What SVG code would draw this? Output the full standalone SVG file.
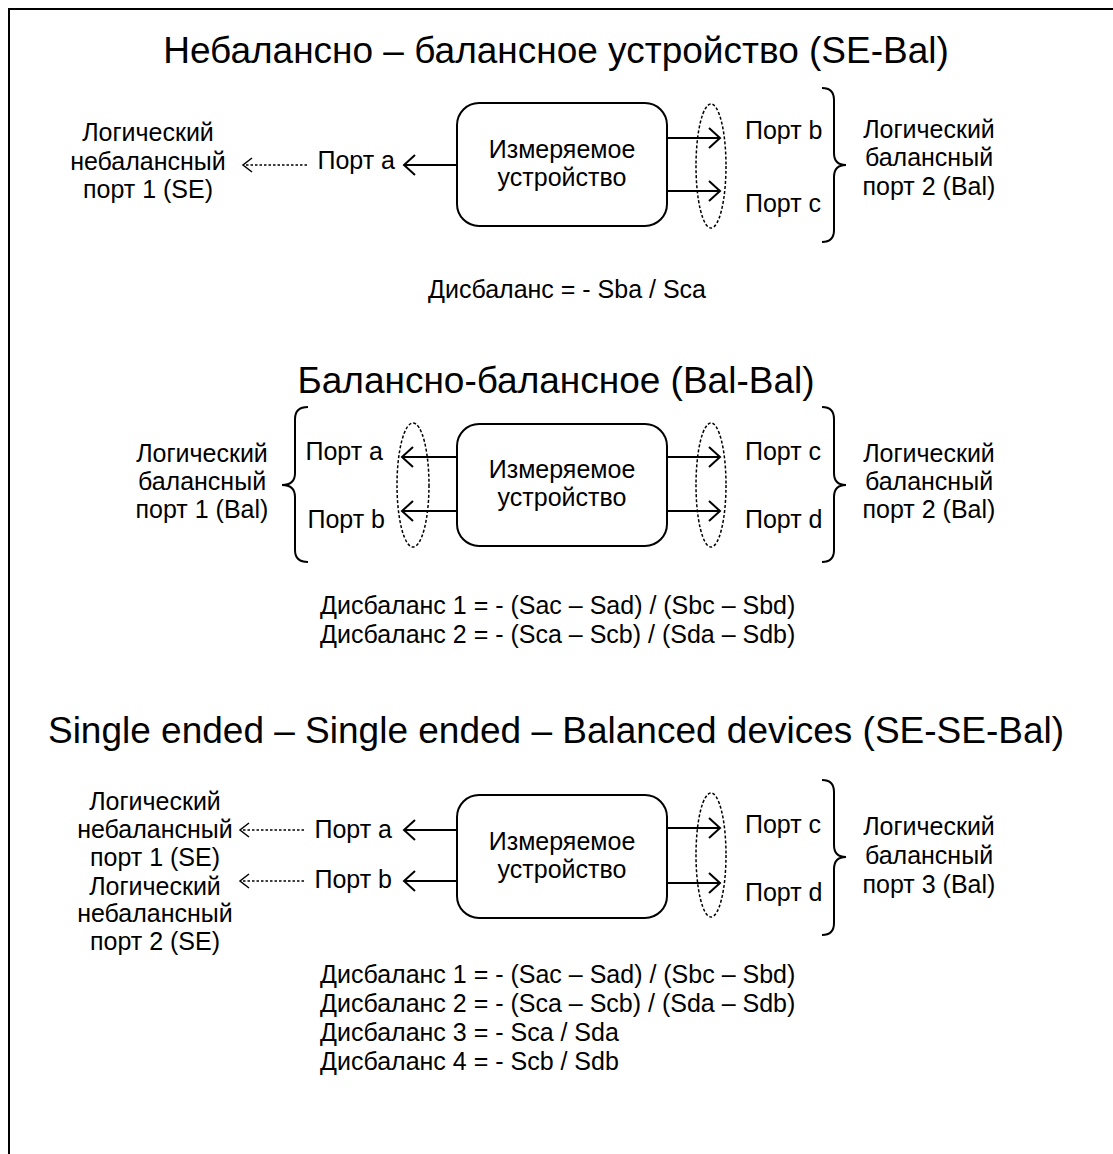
<svg xmlns="http://www.w3.org/2000/svg" width="1113" height="1154" viewBox="0 0 1113 1154">
<style>
text{font-family:"Liberation Sans",Arial,sans-serif;fill:#000}
.t{font-size:37px;text-anchor:middle}
.b{font-size:25px}
.m{text-anchor:middle}
.e{text-anchor:end}
.box{fill:#fff;stroke:#000;stroke-width:2}
.ar{stroke:#000;stroke-width:2;fill:none;marker-end:url(#ah)}
.da{stroke:#000;stroke-width:1.5;fill:none;stroke-dasharray:2.5 2;marker-end:url(#dh)}
.el{fill:none;stroke:#000;stroke-width:1.5;stroke-dasharray:3 2}
.br{fill:none;stroke:#000;stroke-width:2}
</style>
<defs>
<marker id="ah" markerUnits="userSpaceOnUse" markerWidth="14" markerHeight="24" viewBox="0 0 14 24" refX="12" refY="12" orient="auto">
<path d="M1,2 L12,12 L1,22" fill="none" stroke="#000" stroke-width="2"/>
</marker>
<marker id="dh" markerUnits="userSpaceOnUse" markerWidth="12" markerHeight="20" viewBox="0 0 12 20" refX="10" refY="10" orient="auto">
<path d="M1,3 L10,10 L1,17" fill="none" stroke="#000" stroke-width="1.5"/>
</marker>
</defs>
<rect width="1113" height="1154" fill="#fff"/>
<path d="M9,1154 V9 H1113" fill="none" stroke="#000" stroke-width="2"/>

<!-- Section 1 -->
<text class="t" x="556" y="63">Небалансно – балансное устройство (SE-Bal)</text>
<g id="dut1">
<rect class="box" x="457" y="103" width="210" height="123" rx="22"/>
<text class="b m" x="562" y="158">Измеряемое</text>
<text class="b m" x="562" y="186">устройство</text>
</g>
<g id="ports1">
<text class="b e" x="395" y="169">Порт a</text>
<text class="b" x="745" y="139">Порт b</text>
<text class="b" x="745" y="212">Порт c</text>
<ellipse class="el" cx="711" cy="166" rx="15" ry="62"/>
</g>
<g id="logic1">
<text class="b m" x="148" y="141">Логический</text>
<text class="b m" x="148" y="170">небалансный</text>
<text class="b m" x="148" y="198">порт 1 (SE)</text>
<path class="br" d="M822,88 Q834,88 834,100 L834,153 Q834,165 846,165 Q834,165 834,177 L834,230 Q834,242 822,242"/>
<text class="b m" x="929" y="138">Логический</text>
<text class="b m" x="929" y="166">балансный</text>
<text class="b m" x="929" y="195">порт 2 (Bal)</text>
</g>
<text class="b" x="428" y="298">Дисбаланс = - Sba / Sca</text>

<!-- Section 2 -->
<text class="t" x="556" y="393">Балансно-балансное (Bal-Bal)</text>
<g id="dut2">
<rect class="box" x="457" y="424" width="210" height="122" rx="22"/>
<text class="b m" x="562" y="478">Измеряемое</text>
<text class="b m" x="562" y="506">устройство</text>
</g>
<g id="ports2">
<text class="b e" x="383" y="460">Порт a</text>
<text class="b e" x="385" y="528">Порт b</text>
<text class="b" x="745" y="460">Порт c</text>
<text class="b" x="745" y="528">Порт d</text>
<ellipse class="el" cx="413" cy="485" rx="16" ry="62"/>
<ellipse class="el" cx="711" cy="485" rx="15" ry="62"/>
</g>
<g id="logic2">
<path class="br" d="M308,407 Q295,407 295,419 L295,473 Q295,485 282,485 Q295,485 295,497 L295,550 Q295,562 308,562"/>
<text class="b m" x="202" y="462">Логический</text>
<text class="b m" x="202" y="490">балансный</text>
<text class="b m" x="202" y="518">порт 1 (Bal)</text>
<path class="br" d="M822,407 Q834,407 834,419 L834,473 Q834,485 846,485 Q834,485 834,497 L834,550 Q834,562 822,562"/>
<text class="b m" x="929" y="462">Логический</text>
<text class="b m" x="929" y="490">балансный</text>
<text class="b m" x="929" y="518">порт 2 (Bal)</text>
</g>
<text class="b" x="320" y="614">Дисбаланс 1 = - (Sac – Sad) / (Sbc – Sbd)</text>
<text class="b" x="320" y="643">Дисбаланс 2 = - (Sca – Scb) / (Sda – Sdb)</text>

<!-- Section 3 -->
<text class="t" x="556" y="743">Single ended – Single ended – Balanced devices (SE-SE-Bal)</text>
<g id="dut3">
<rect class="box" x="457" y="795" width="210" height="123" rx="22"/>
<text class="b m" x="562" y="850">Измеряемое</text>
<text class="b m" x="562" y="878">устройство</text>
</g>
<g id="ports3">
<text class="b e" x="392" y="838">Порт a</text>
<text class="b e" x="392" y="888">Порт b</text>
<text class="b" x="745" y="833">Порт c</text>
<text class="b" x="745" y="901">Порт d</text>
<ellipse class="el" cx="711" cy="855" rx="15" ry="62"/>
</g>
<g id="logic3">
<text class="b m" x="155" y="810">Логический</text>
<text class="b m" x="155" y="838">небалансный</text>
<text class="b m" x="155" y="866">порт 1 (SE)</text>
<text class="b m" x="155" y="895">Логический</text>
<text class="b m" x="155" y="922">небалансный</text>
<text class="b m" x="155" y="950">порт 2 (SE)</text>
<path class="br" d="M822,780 Q834,780 834,792 L834,845 Q834,857 846,857 Q834,857 834,869 L834,923 Q834,935 822,935"/>
<text class="b m" x="929" y="835">Логический</text>
<text class="b m" x="929" y="864">балансный</text>
<text class="b m" x="929" y="893">порт 3 (Bal)</text>
</g>
<text class="b" x="320" y="983">Дисбаланс 1 = - (Sac – Sad) / (Sbc – Sbd)</text>
<text class="b" x="320" y="1012">Дисбаланс 2 = - (Sca – Scb) / (Sda – Sdb)</text>
<text class="b" x="320" y="1041">Дисбаланс 3 = - Sca / Sda</text>
<text class="b" x="320" y="1070">Дисбаланс 4 = - Scb / Sdb</text>

<g id="connectors">
<line class="ar" x1="457" y1="165" x2="404" y2="165"/>
<line class="da" x1="307" y1="165" x2="243" y2="165"/>
<line class="ar" x1="667" y1="138" x2="720" y2="138"/>
<line class="ar" x1="667" y1="191" x2="720" y2="191"/>
<line class="ar" x1="457" y1="457" x2="402" y2="457"/>
<line class="ar" x1="457" y1="511" x2="402" y2="511"/>
<line class="ar" x1="667" y1="457" x2="720" y2="457"/>
<line class="ar" x1="667" y1="511" x2="720" y2="511"/>
<line class="ar" x1="457" y1="830" x2="404" y2="830"/>
<line class="ar" x1="457" y1="881" x2="404" y2="881"/>
<line class="da" x1="304" y1="830" x2="240" y2="830"/>
<line class="da" x1="304" y1="881" x2="240" y2="881"/>
<line class="ar" x1="667" y1="828" x2="720" y2="828"/>
<line class="ar" x1="667" y1="883" x2="720" y2="883"/>
</g>
</svg>
